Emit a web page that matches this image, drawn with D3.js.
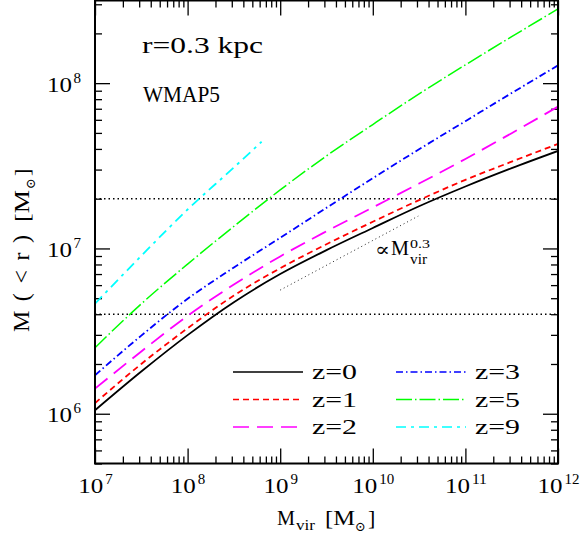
<!DOCTYPE html>
<html>
<head>
<meta charset="utf-8">
<script src="https://cdn.jsdelivr.net/npm/d3@7"></script>
<style>
body { margin: 0; background: #fff; }
text { font-family: "Liberation Serif", "DejaVu Serif", serif; fill: #000; }
</style>
</head>
<body>
<svg width="582" height="535"></svg>
<script>
// halo virial masses (Msun) the curves are sampled at
var mvir = [1e7, 3.16e7, 1e8, 3.16e8, 1e9, 3.16e9, 1e10, 3.16e10, 1e11, 3.16e11, 1e12];
var mvirZ9 = [1e7, 3.16e7, 1e8, 3.16e8, 6.3e8];

// M(<0.3 kpc)
var massZ0 = [1.05e6, 1.80e6, 2.99e6, 4.73e6, 7.00e6, 9.77e6, 1.33e7, 1.80e7, 2.37e7, 3.06e7, 3.89e7];
var massZ1 = [1.16e6, 2.00e6, 3.29e6, 5.19e6, 7.59e6, 1.06e7, 1.45e7, 1.96e7, 2.60e7, 3.35e7, 4.29e7];
var massZ2 = [1.42e6, 2.38e6, 3.91e6, 6.05e6, 8.95e6, 1.27e7, 1.77e7, 2.47e7, 3.48e7, 4.98e7, 7.21e7];
var massZ3 = [1.71e6, 2.97e6, 4.96e6, 7.67e6, 1.16e7, 1.76e7, 2.66e7, 3.98e7, 5.89e7, 8.71e7, 1.28e8];
var massZ5 = [2.51e6, 4.62e6, 8.04e6, 1.36e7, 2.26e7, 3.63e7, 5.62e7, 8.61e7, 1.29e8, 1.91e8, 2.81e8];
var massZ9 = [4.63e6, 9.02e6, 1.72e7, 3.09e7, 4.42e7];

// reference slope segment and horizontal levels
var refMvir = [1e9, 3.1e10];
var refMass = [5.6e6, 1.57e7];
var levels = [2e7, 4e6];

var xMajor = [1e7, 1e8, 1e9, 1e10, 1e11, 1e12];
var yMajor = [1e6, 1e7, 1e8];
var labels = ["z=0", "z=1", "z=2", "z=3", "z=5", "z=9"];

var series = [
    {name: labels[0], x: mvir, y: massZ0, color: "#000000", dash: null, w: 1.8},
    {name: labels[1], x: mvir, y: massZ1, color: "#ff0000", dash: "6,4", w: 1.8},
    {name: labels[2], x: mvir, y: massZ2, color: "#ff00ff", dash: "16,8", w: 1.8},
    {name: labels[3], x: mvir, y: massZ3, color: "#0000ff", dash: "7,3,1.5,3", w: 1.8},
    {name: labels[4], x: mvir, y: massZ5, color: "#00ff00", dash: "16,3,1.5,3", w: 1.5},
    {name: labels[5], x: mvirZ9, y: massZ9, color: "#00ffff", dash: "10,5,3,5", w: 1.8}
];

var svg = d3.select("svg");
var plotL = 95, plotR = 558, plotT = 0.5, plotB = 463.5;

var x = d3.scaleLog().domain([1e7, 1e12]).range([plotL, plotR]);
var y = d3.scaleLog().domain([5e5, Math.pow(10, 8.5)]).range([plotB, plotT]);

function minorTicks(scale) {
    var d = scale.domain();
    return scale.ticks().filter(function(v) {
        var m = v / Math.pow(10, Math.floor(Math.log10(v) + 1e-9));
        return Math.abs(m - 1) > 1e-6 && v >= d[0] && v <= d[1];
    });
}

svg.append("clipPath").attr("id", "plot")
    .append("rect").attr("x", plotL).attr("y", plotT)
    .attr("width", plotR - plotL).attr("height", plotB - plotT);

// axes: inward ticks on all four sides
function drawAxis(axisFn, scale, tx, ty) {
    var g1 = svg.append("g").attr("transform", "translate(" + tx + "," + ty + ")")
        .call(axisFn(scale).tickValues(scale === x ? xMajor : yMajor).tickSize(-15).tickFormat(""));
    var g2 = svg.append("g").attr("transform", "translate(" + tx + "," + ty + ")")
        .call(axisFn(scale).tickValues(minorTicks(scale)).tickSize(-7).tickFormat(""));
    [g1, g2].forEach(function(g) {
        g.select(".domain").remove();
        g.selectAll("line").attr("stroke", "#000").attr("stroke-width", 1.3);
    });
}
drawAxis(d3.axisBottom, x, 0, plotB);
drawAxis(d3.axisTop, x, 0, plotT);
drawAxis(d3.axisLeft, y, plotL, 0);
drawAxis(d3.axisRight, y, plotR, 0);

var plot = svg.append("g").attr("clip-path", "url(#plot)");

plot.selectAll(".level")
    .data(levels)
    .enter().append("line")
    .attr("class", "level")
    .attr("x1", plotL).attr("x2", plotR)
    .attr("y1", function(d) { return y(d); })
    .attr("y2", function(d) { return y(d); })
    .attr("stroke", "#000").attr("stroke-width", 1.5)
    .attr("stroke-dasharray", "1.5,3");

plot.append("line")
    .attr("x1", x(refMvir[0])).attr("y1", y(refMass[0]))
    .attr("x2", x(refMvir[1])).attr("y2", y(refMass[1]))
    .attr("stroke", "#222").attr("stroke-width", 1)
    .attr("stroke-dasharray", "1,3");

var line = d3.line()
    .x(function(d) { return x(d[0]); })
    .y(function(d) { return y(d[1]); })
    .curve(d3.curveMonotoneX);

plot.selectAll(".curve")
    .data(series)
    .enter().append("path")
    .attr("class", "curve")
    .attr("d", function(s) { return line(d3.zip(s.x, s.y)); })
    .attr("fill", "none")
    .attr("stroke", function(s) { return s.color; })
    .attr("stroke-width", function(s) { return s.w; })
    .attr("stroke-dasharray", function(s) { return s.dash; });

svg.append("rect")
    .attr("x", plotL).attr("y", plotT)
    .attr("width", plotR - plotL).attr("height", plotB - plotT)
    .attr("fill", "none").attr("stroke", "#000").attr("stroke-width", 2);

function label(parent, px, py, size, len, str, adjust) {
    var t = parent.append("text").attr("x", px).attr("y", py).attr("font-size", size).text(str);
    if (len) t.attr("textLength", len).attr("lengthAdjust", adjust || "spacingAndGlyphs");
    return t;
}

// tick labels 10^n
xMajor.forEach(function(v) {
    var e = String(Math.round(Math.log10(v)));
    var w = 25 + 2 + 7.5 * e.length;
    var x0 = x(v) - w / 2 + 0.5;
    label(svg, x0, 493, 22, 25, "10");
    label(svg, x0 + 27, 483.5, 15, 7.5 * e.length, e);
});
yMajor.forEach(function(v) {
    var e = String(Math.round(Math.log10(v)));
    var yy = y(v);
    label(svg, 47, yy + 8.5, 22, 25, "10");
    label(svg, 73.5, yy - 0.5, 15, 7.5, e);
});

// annotations
label(svg, 142, 53, 23, 121, "r=0.3 kpc");
label(svg, 143, 102, 23, 77, "WMAP5");
label(svg, 375, 256, 19, 15, "∝");
label(svg, 391, 255, 22, 18, "M");
label(svg, 410, 248, 13, 20, "0.3");
label(svg, 410, 264, 14, 17, "vir");

// axis titles
label(svg, 277, 525, 22, 18, "M");
label(svg, 296, 530, 15, 19, "vir");
label(svg, 325, 525, 22, 30, "[M");
label(svg, 355, 531, 13, 11, "⊙");
label(svg, 368, 525, 22, 0, "]");

var yt = svg.append("g").attr("transform", "translate(29,332) rotate(-90)");
label(yt, 0, 0, 24, 97, "M(<r)", "spacing");
label(yt, 110, 0, 22, 32, "[M");
label(yt, 143, 6, 13, 11, "⊙");
label(yt, 156, 0, 22, 0, "]");

// legend, two columns of three
var legend = svg.append("g").selectAll("g")
    .data(series)
    .enter().append("g")
    .attr("transform", function(s, i) {
        var col = Math.floor(i / 3), row = i % 3;
        return "translate(" + (233 + col * 163) + "," + (372 + row * 27.5) + ")";
    });
legend.append("line")
    .attr("x1", 0).attr("x2", 70).attr("y1", 0).attr("y2", 0)
    .attr("stroke", function(s) { return s.color; })
    .attr("stroke-width", 1.3)
    .attr("stroke-dasharray", function(s) { return s.dash; });
legend.append("text")
    .attr("x", 79).attr("y", 7)
    .attr("font-size", 21)
    .attr("textLength", 45).attr("lengthAdjust", "spacingAndGlyphs")
    .text(function(s) { return s.name; });
</script>
</body>
</html>
